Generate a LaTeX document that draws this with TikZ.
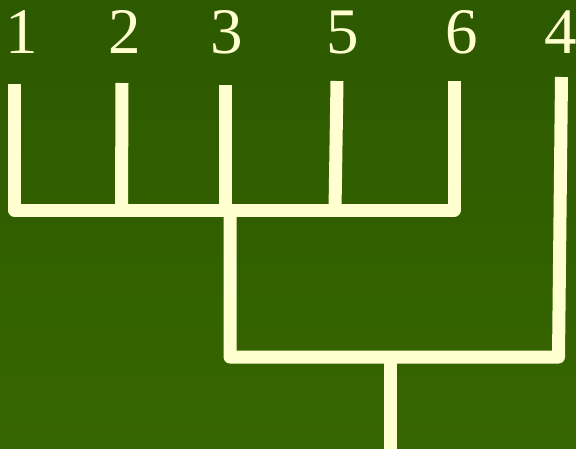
\documentclass[tikz,border=0pt]{standalone}
\usepackage{fontspec}
\setmainfont{Liberation Serif}
\definecolor{bgtop}{HTML}{2D5900}
\definecolor{bgbot}{HTML}{366600}
\definecolor{cream}{HTML}{FFFFD0}
\begin{document}
\begin{tikzpicture}[x=1pt,y=-1pt,
  branch/.style={draw=cream,line width=13pt,line join=round,line cap=butt},
  leaf/.style={text=cream,font=\fontsize{65}{65}\selectfont,inner sep=0pt,anchor=base}]
\shade[top color=bgtop,bottom color=bgbot] (0,0) rectangle (576,448);
\useasboundingbox (0,0) rectangle (576,448);
% labels
\node[leaf] (l1) at (22,53) {1};
\node[leaf] (l2) at (125,53) {2};
\node[leaf] (l3) at (227,53) {3};
\node[leaf] (l5) at (343,53) {5};
\node[leaf] (l6) at (462,53) {6};
\node[leaf] (l4) at (561,53) {4};
% coordinates
\coordinate (t1) at (14.5,84);
\coordinate (t2) at (122,83);
\coordinate (t3) at (225.5,85);
\coordinate (t5) at (337,81);
\coordinate (t6) at (454,81);
\coordinate (t4) at (561.5,77);
\coordinate (b1) at (14.5,210);
\coordinate (b2) at (121.5,210);
\coordinate (b3) at (225.5,210);
\coordinate (b5) at (335,210);
\coordinate (b6) at (454,210);
\coordinate (j1) at (230,210);
\coordinate (c1) at (230,357);
\coordinate (c4) at (558.5,357);
\coordinate (r) at (390,357);
\coordinate (root) at (390,449);
% tree
\draw[branch] (t1) -- (b1) -- (b6) -- (t6);
\draw[branch] (t2) -- (b2);
\draw[branch] (t3) -- (b3);
\draw[branch] (t5) -- (b5);
\draw[branch] (j1) -- (c1) -- (c4) -- (t4);
\draw[branch] (r) -- (root);
\end{tikzpicture}
\end{document}
